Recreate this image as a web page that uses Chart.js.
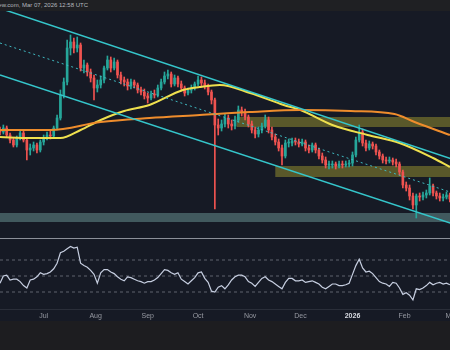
<!DOCTYPE html>
<html>
<head>
<meta charset="utf-8">
<script src="https://cdn.jsdelivr.net/npm/chart.js@4.4.1/dist/chart.umd.min.js"></script>
<style>
  html, body { margin: 0; padding: 0; }
  body { width: 450px; height: 350px; overflow: hidden; position: relative; background: #1d1d20; font-family: 'Liberation Sans', Arial, sans-serif; }
  #topbar { position: absolute; left: 0; top: 0; width: 450px; height: 11px; background: #1f2023; overflow: hidden; }
  #stamp { position: absolute; right: 362px; top: 2px; font-size: 6px; line-height: 7px; color: #b4b7be; white-space: nowrap; }
  #main { position: absolute; left: 0; top: 11px; background: #161a25; }
  #sep { position: absolute; left: 0; top: 238px; width: 450px; height: 1px; background: #8b8f99; }
  #rsi { position: absolute; left: 0; top: 239px; background: #161a25; }
</style>
</head>
<body>
<div id="topbar"><span id="stamp">tradingview.com, Mar 07, 2026 12:58 UTC</span></div>
<canvas id="main" width="470" height="227"></canvas>
<div id="sep"></div>
<canvas id="rsi" width="470" height="82"></canvas>
<script>
// 2-day candles starting Jun 5 2025 (day 0)
const dayStep = 2;

const opens = [
  2.440, 2.416, 2.464, 2.380, 2.320, 2.260, 2.344, 2.404, 2.320, 2.200,
  2.224, 2.260, 2.200, 2.296, 2.344, 2.380, 2.368, 2.464, 2.584, 2.860,
  3.016, 3.424, 3.496, 3.424, 3.460, 3.184, 3.220, 3.136, 3.064, 2.944,
  2.980, 3.040, 3.184, 3.280, 3.184, 3.256, 3.100, 3.040, 3.016, 2.968,
  3.016, 2.980, 2.920, 2.896, 2.848, 2.824, 2.872, 2.860, 2.944, 3.016,
  3.088, 3.112, 2.992, 3.064, 2.992, 2.944, 2.884, 2.920, 2.944, 2.992,
  3.040, 3.004, 2.968, 2.896, 2.800, 2.500, 2.464, 2.512, 2.584, 2.512,
  2.488, 2.560, 2.680, 2.656, 2.596, 2.512, 2.440, 2.392, 2.440, 2.488,
  2.560, 2.440, 2.356, 2.296, 2.224, 2.128, 2.284, 2.284, 2.308, 2.296,
  2.272, 2.296, 2.224, 2.200, 2.260, 2.200, 2.128, 2.080, 2.020, 2.020,
  2.032, 2.008, 2.032, 2.020, 2.032, 2.044, 2.140, 2.320, 2.416, 2.284,
  2.224, 2.272, 2.248, 2.176, 2.128, 2.080, 2.068, 2.080, 2.056, 2.032,
  1.936, 1.780, 1.744, 1.648, 1.540, 1.648, 1.636, 1.660, 1.684, 1.768,
  1.684, 1.648, 1.624, 1.636, 1.660
];
const highs = [
  2.476, 2.500, 2.488, 2.404, 2.344, 2.368, 2.440, 2.428, 2.344, 2.272,
  2.296, 2.284, 2.320, 2.380, 2.416, 2.428, 2.488, 2.620, 2.920, 3.064,
  3.520, 3.580, 3.544, 3.556, 3.484, 3.280, 3.244, 3.172, 3.100, 3.040,
  3.088, 3.208, 3.328, 3.316, 3.304, 3.280, 3.136, 3.076, 3.052, 3.052,
  3.040, 3.004, 2.956, 2.932, 2.884, 2.908, 2.920, 2.980, 3.052, 3.136,
  3.160, 3.136, 3.100, 3.088, 3.028, 2.968, 2.944, 2.980, 3.016, 3.088,
  3.076, 3.040, 2.992, 2.920, 2.824, 2.572, 2.560, 2.632, 2.620, 2.560,
  2.608, 2.728, 2.716, 2.692, 2.620, 2.548, 2.476, 2.476, 2.524, 2.620,
  2.596, 2.476, 2.392, 2.332, 2.260, 2.320, 2.332, 2.344, 2.344, 2.332,
  2.332, 2.320, 2.260, 2.284, 2.284, 2.224, 2.164, 2.116, 2.068, 2.068,
  2.056, 2.068, 2.068, 2.068, 2.080, 2.176, 2.356, 2.500, 2.452, 2.320,
  2.308, 2.296, 2.272, 2.200, 2.152, 2.116, 2.116, 2.104, 2.092, 2.056,
  1.960, 1.816, 1.780, 1.684, 1.672, 1.684, 1.696, 1.720, 1.864, 1.792,
  1.708, 1.684, 1.672, 1.696, 1.684
];
const lows = [
  2.380, 2.392, 2.356, 2.284, 2.236, 2.236, 2.320, 2.296, 2.080, 2.140,
  2.188, 2.164, 2.176, 2.260, 2.320, 2.332, 2.344, 2.440, 2.560, 2.824,
  2.980, 3.340, 3.364, 3.376, 3.148, 3.124, 3.088, 3.016, 2.800, 2.896,
  2.944, 3.004, 3.160, 3.136, 3.160, 3.064, 2.992, 2.968, 2.920, 2.932,
  2.944, 2.884, 2.860, 2.812, 2.764, 2.800, 2.824, 2.836, 2.920, 2.992,
  3.052, 2.956, 2.968, 2.956, 2.908, 2.848, 2.860, 2.884, 2.920, 2.968,
  2.968, 2.932, 2.860, 2.752, 1.492, 2.380, 2.428, 2.476, 2.464, 2.440,
  2.452, 2.536, 2.608, 2.560, 2.476, 2.404, 2.344, 2.356, 2.404, 2.464,
  2.404, 2.320, 2.260, 2.188, 2.020, 2.104, 2.236, 2.248, 2.260, 2.236,
  2.248, 2.188, 2.164, 2.176, 2.164, 2.092, 2.044, 1.984, 1.972, 1.984,
  1.972, 1.984, 1.984, 1.996, 1.996, 2.008, 2.116, 2.296, 2.248, 2.188,
  2.200, 2.212, 2.140, 2.092, 2.044, 2.032, 2.044, 2.020, 1.996, 1.900,
  1.744, 1.708, 1.600, 1.492, 1.384, 1.588, 1.600, 1.624, 1.660, 1.648,
  1.612, 1.588, 1.588, 1.612, 1.576
];
const closes = [
  2.416, 2.464, 2.380, 2.320, 2.260, 2.344, 2.404, 2.320, 2.200, 2.224,
  2.260, 2.200, 2.296, 2.344, 2.380, 2.368, 2.464, 2.584, 2.860, 3.016,
  3.424, 3.496, 3.424, 3.460, 3.184, 3.220, 3.136, 3.064, 2.944, 2.980,
  3.040, 3.184, 3.280, 3.184, 3.256, 3.100, 3.040, 3.016, 2.968, 3.016,
  2.980, 2.920, 2.896, 2.848, 2.824, 2.872, 2.860, 2.944, 3.016, 3.088,
  3.112, 2.992, 3.064, 2.992, 2.944, 2.884, 2.920, 2.944, 2.992, 3.040,
  3.004, 2.968, 2.896, 2.800, 2.500, 2.464, 2.512, 2.584, 2.512, 2.488,
  2.560, 2.680, 2.656, 2.596, 2.512, 2.440, 2.392, 2.440, 2.488, 2.560,
  2.440, 2.356, 2.296, 2.224, 2.128, 2.284, 2.284, 2.308, 2.296, 2.272,
  2.296, 2.224, 2.200, 2.260, 2.200, 2.128, 2.080, 2.020, 2.020, 2.032,
  2.008, 2.032, 2.020, 2.032, 2.044, 2.140, 2.320, 2.416, 2.284, 2.224,
  2.272, 2.248, 2.176, 2.128, 2.080, 2.068, 2.080, 2.056, 2.032, 1.936,
  1.780, 1.744, 1.648, 1.540, 1.648, 1.636, 1.660, 1.684, 1.768, 1.684,
  1.648, 1.624, 1.636, 1.660, 1.612
];
const rsiValues = [
  41, 50, 51, 45, 46, 46, 43, 38, 35, 45,
  46, 49, 54, 52, 53, 55, 59, 66, 79, 81,
  84, 87, 85, 86, 66, 63, 61, 57, 52, 41,
  54, 58, 58, 55, 53, 49, 46, 44, 49, 48,
  46, 44, 43, 41, 43, 43, 45, 48, 53, 58,
  57, 54, 52, 54, 46, 43, 40, 44, 48, 54,
  55, 47, 42, 31, 30, 36, 38, 34, 39, 45,
  49, 51, 51, 49, 43, 41, 37, 42, 47, 49,
  45, 43, 40, 37, 34, 42, 47, 47, 44, 44,
  45, 42, 43, 44, 42, 40, 36, 34, 37, 40,
  40, 38, 38, 39, 41, 52, 63, 71, 60, 55,
  56, 53, 48, 43, 41, 40, 37, 42, 41, 35,
  27, 29, 26, 20, 34, 33, 35, 38, 42, 39,
  41, 42, 40, 41, 39
];

// moving averages
const yellowDays = [0, 18, 36, 48, 60, 74, 89, 109, 119, 131, 149, 169, 179, 198, 219, 238, 258, 268];
const yellowValues = [2.356, 2.344, 2.344, 2.44, 2.56, 2.668, 2.74, 2.92, 2.956, 2.98, 2.884, 2.74, 2.68, 2.50, 2.38, 2.284, 2.104, 1.996];
const orangeDays = [0, 30, 60, 89, 119, 149, 179, 209, 235, 247, 268];
const orangeValues = [2.44, 2.44, 2.536, 2.584, 2.62, 2.656, 2.68, 2.668, 2.632, 2.536, 2.38];

// descending channel
const channelDays = [0, 280];
const upperChannel = [3.90, 2.02];
const midChannel = [3.484, 1.617];
const lowerChannel = [3.10, 1.245];

// zones
const zoneStart = [141, 164, 0];
const zoneEnd = [280, 280, 280];
const zoneTop = [2.596, 2.008, 1.444];
const zoneBottom = [2.476, 1.876, 1.336];
const zoneColors = ['rgba(180,175,50,0.42)', 'rgba(180,175,50,0.42)', 'rgba(100,140,140,0.55)'];

const monthDays = [26, 57, 88, 118, 149, 179, 210, 241, 269];
const monthLabels = ['Jul', 'Aug', 'Sep', 'Oct', 'Nov', 'Dec', '2026', 'Feb', 'Mar'];
const rsiLevels = [70, 50, 30];

const upColor = '#26a69a';
const downColor = '#ef5350';
const candleColors = closes.map((c, i) => c >= opens[i] ? upColor : downColor);

const toPoints = (xs, ys) => xs.map((x, i) => ({ x: x, y: ys[i] }));

const zonePlugin = {
  id: 'zones',
  beforeDatasetsDraw(chart) {
    const { ctx, chartArea, scales: { x, y } } = chart;
    ctx.save();
    ctx.beginPath();
    ctx.rect(chartArea.left, chartArea.top, chartArea.width, chartArea.height);
    ctx.clip();
    zoneStart.forEach((s, i) => {
      const x0 = x.getPixelForValue(s);
      const x1 = x.getPixelForValue(zoneEnd[i]);
      const y0 = y.getPixelForValue(zoneTop[i]);
      const y1 = y.getPixelForValue(zoneBottom[i]);
      ctx.fillStyle = zoneColors[i];
      ctx.fillRect(x0, y0, x1 - x0, y1 - y0);
    });
    ctx.restore();
  }
};

const lineStyle = { type: 'line', pointRadius: 0, fill: false, order: 0 };

new Chart(document.getElementById('main'), {
  type: 'bar',
  data: {
    datasets: [
      { ...lineStyle, data: toPoints(channelDays, upperChannel), borderColor: '#35c6cb', borderWidth: 1.5 },
      { ...lineStyle, data: toPoints(channelDays, lowerChannel), borderColor: '#35c6cb', borderWidth: 1.5 },
      { ...lineStyle, data: toPoints(channelDays, midChannel), borderColor: '#3fb9c0', borderWidth: 1, borderDash: [2, 3] },
      { ...lineStyle, data: toPoints(orangeDays, orangeValues), borderColor: '#ee8c2c', borderWidth: 2, cubicInterpolationMode: 'monotone' },
      { ...lineStyle, data: toPoints(yellowDays, yellowValues), borderColor: '#efe04e', borderWidth: 2, cubicInterpolationMode: 'monotone' },
      {
        data: closes.map((c, i) => ({ x: i * dayStep, y: [opens[i], c] })),
        backgroundColor: candleColors, barThickness: 2, minBarLength: 1, grouped: false, order: 2
      },
      {
        data: closes.map((c, i) => ({ x: i * dayStep, y: [lows[i], highs[i]] })),
        backgroundColor: candleColors, barThickness: 1, grouped: false, order: 3
      }
    ]
  },
  options: {
    responsive: false,
    animation: false,
    events: [],
    layout: { padding: 0 },
    plugins: { legend: { display: false }, tooltip: { enabled: false } },
    scales: {
      x: { type: 'linear', min: 0, max: 280, offset: false, display: false },
      y: { type: 'linear', min: 1.144, max: 3.868, display: false }
    }
  },
  plugins: [zonePlugin]
});

const levelSets = rsiLevels.map(v => ({
  data: toPoints(channelDays, [v, v]),
  borderColor: '#5f636f', borderWidth: 1, borderDash: [3, 3], pointRadius: 0
}));

new Chart(document.getElementById('rsi'), {
  type: 'line',
  data: {
    datasets: [
      {
        data: rsiValues.map((v, i) => ({ x: i * dayStep, y: v })),
        borderColor: '#c6cee0', borderWidth: 1.2, pointRadius: 0
      },
      ...levelSets
    ]
  },
  options: {
    responsive: false,
    animation: false,
    events: [],
    layout: { padding: 0 },
    plugins: { legend: { display: false }, tooltip: { enabled: false } },
    scales: {
      x: {
        type: 'linear', min: 0, max: 280,
        afterBuildTicks: s => { s.ticks = monthDays.map(v => ({ value: v })); },
        afterFit: s => { s.height = 12; },
        grid: { display: false, drawTicks: false },
        border: { display: true, color: '#2a2e39' },
        ticks: {
          padding: 3, autoSkip: false, maxRotation: 0,
          color: ctx => ctx.index === 6 ? '#d6d9e0' : '#9598a1',
          font: ctx => ({ size: 7, family: "'Liberation Sans', Arial, sans-serif", weight: ctx.index === 6 ? 'bold' : 'normal' }),
          callback: (v, i) => monthLabels[i]
        }
      },
      y: { min: 8.75, max: 96.25, display: false }
    }
  }
});
</script>
</body>
</html>
